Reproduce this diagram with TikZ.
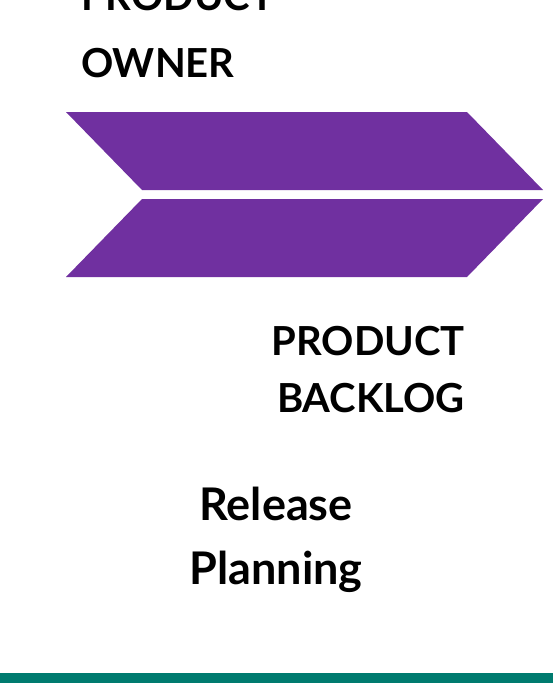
\documentclass[tikz,border=0pt]{standalone}
\usepackage{fontspec}
\setmainfont{Lato}
\usepackage{tikz}
\definecolor{chevronpurple}{HTML}{7030A0}
\definecolor{barteal}{HTML}{007B6F}

\begin{document}
\begin{tikzpicture}[x=1pt,y=-1pt]
  \useasboundingbox (0,0) rectangle (553,683);

  \tikzset{chevron/.style={fill=chevronpurple, draw=none}}

  \fill[chevron] (66,112) -- (467,112) -- (543,190) -- (142,190) -- cycle;
  \fill[chevron] (142,199) -- (543,199) -- (467,277) -- (66,277) -- cycle;

  \fill[barteal] (0,673) rectangle (553,683);

  \begin{scope}[every node/.style={inner sep=0pt, text=black}]
      \node[anchor=base west, align=left,
            font=\fontsize{40}{67}\selectfont\bfseries] (owner) at (81,77)
            {PRODUCT\\OWNER};

      \node[anchor=base east, align=right,
            font=\fontsize{40}{57}\selectfont\bfseries] (backlog) at (465,412)
            {PRODUCT\\BACKLOG};

      \node[anchor=base, align=center,
            font=\fontsize{45}{64}\selectfont\bfseries] (release) at (276,584)
            {Release\\Planning};
  \end{scope}

\end{tikzpicture}
\end{document}
